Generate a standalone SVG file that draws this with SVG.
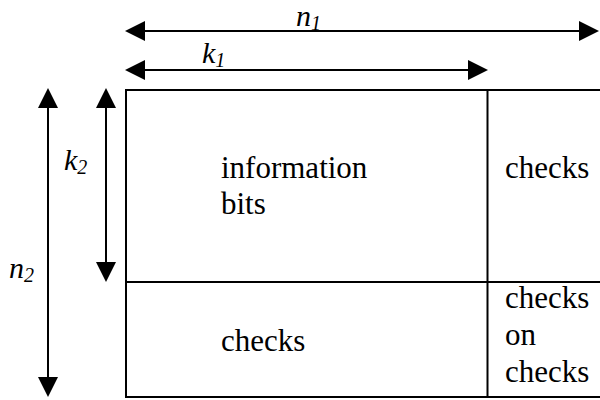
<svg xmlns="http://www.w3.org/2000/svg" width="600" height="400" viewBox="0 0 600 400">
<style>
.box{fill:none;stroke:#000;stroke-width:2}
.dim{fill:none;stroke:#000;stroke-width:2;marker-start:url(#ah);marker-end:url(#ah)}
text{font-family:'Times New Roman',Times,'Liberation Serif',Tinos,'Noto Serif','DejaVu Serif',FreeSerif,serif}
.t{font-size:31px;fill:#000}
.lbl{font-size:30px;font-style:italic;fill:#000}
.sub{font-size:20px}
</style>
<defs>
<marker id="ah" markerUnits="userSpaceOnUse" markerWidth="20" markerHeight="20" refX="10" refY="10" orient="auto-start-reverse" viewBox="0 0 20 20">
<path d="M0,0 L20,10 L0,20 z" fill="#000"/>
</marker>
</defs>
<rect width="600" height="400" fill="#fff"/>
<g id="connectors">
<path id="n1-arrow" class="dim" d="M135,31 H589"/>
<path id="k1-arrow" class="dim" d="M135,70 H478"/>
<path id="k2-arrow" class="dim" d="M106,98 V272"/>
<path id="n2-arrow" class="dim" d="M48,98 V387"/>
</g>
<g id="matrix">
<rect class="box" x="126" y="90" width="500" height="307"/>
<line class="box" x1="487.5" y1="90" x2="487.5" y2="397"/>
<line class="box" x1="126" y1="282" x2="626" y2="282"/>
</g>
<g id="info-bits"><text class="t" x="221" y="178">information</text><text class="t" x="221" y="214">bits</text></g>
<g id="row-checks"><text class="t" x="505" y="178">checks</text></g>
<g id="col-checks"><text class="t" x="221" y="351">checks</text></g>
<g id="checks-on-checks"><text class="t" x="505" y="308">checks</text><text class="t" x="505" y="345">on</text><text class="t" x="505" y="382">checks</text></g>
<g id="label-n1"><text class="lbl" x="296" y="26">n<tspan class="sub" dy="4">1</tspan></text></g>
<g id="label-k1"><text class="lbl" x="202" y="63">k<tspan class="sub" dy="4">1</tspan></text></g>
<g id="label-k2"><text class="lbl" x="64" y="170">k<tspan class="sub" dy="4">2</tspan></text></g>
<g id="label-n2"><text class="lbl" x="9" y="278">n<tspan class="sub" dy="4">2</tspan></text></g>
</svg>
